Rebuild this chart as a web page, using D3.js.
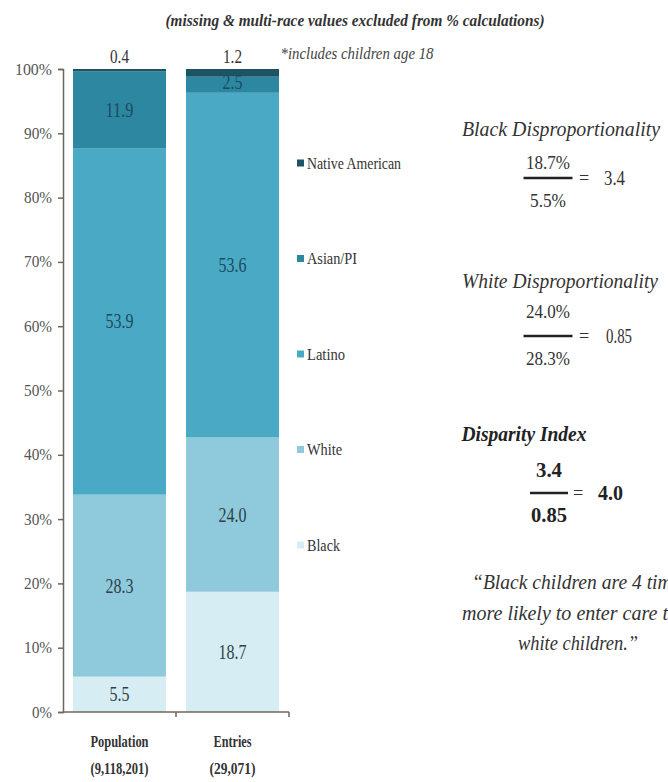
<!DOCTYPE html>
<html><head><meta charset="utf-8">
<script src="https://cdn.jsdelivr.net/npm/d3@7"></script>
<style>body{margin:0;background:#fff;overflow:hidden}svg{display:block}</style>
</head><body>
<svg id="c" width="668" height="782"></svg>
<script>
// ---- data ----
const categories = ["Population", "Entries"];
const categoryCounts = ["(9,118,201)", "(29,071)"];
const groups = ["Black", "White", "Latino", "Asian/PI", "Native American"];
const blackValues = [5.5, 18.7];
const whiteValues = [28.3, 24.0];
const latinoValues = [53.9, 53.6];
const asianValues = [11.9, 2.5];
const nativeValues = [0.4, 1.2];
const yTickValues = [0, 10, 20, 30, 40, 50, 60, 70, 80, 90, 100];

const colors = {"Black": "#d7edf4", "White": "#8ecadc", "Latino": "#4aa9c4", "Asian/PI": "#2d87a1", "Native American": "#1c5466"};
const serif = "'Liberation Serif','Times New Roman',serif";

const svg = d3.select("#c");

function txt(x, y, s, o = {}) {
  const t = svg.append("text")
    .attr("x", x).attr("y", y)
    .attr("text-anchor", o.anchor || "middle")
    .attr("dominant-baseline", "central")
    .attr("font-family", serif)
    .attr("font-size", o.size || 15)
    .attr("font-weight", o.weight || "normal")
    .attr("font-style", o.style || "normal")
    .attr("fill", o.fill || "#333")
    .text(s);
  if (o.w) t.attr("textLength", o.w).attr("lengthAdjust", "spacingAndGlyphs");
  return t;
}

// ---- scales ----
const x = d3.scaleBand().domain(categories).range([63, 289]).paddingInner(20 / 113).paddingOuter(10 / 113);
const y = d3.scaleLinear().domain([0, 100]).range([712, 69]);

const table = categories.map((c, i) => ({
  cat: c,
  "Black": blackValues[i], "White": whiteValues[i], "Latino": latinoValues[i],
  "Asian/PI": asianValues[i], "Native American": nativeValues[i]
}));
const stacked = d3.stack().keys(groups)(table);

// ---- bars ----
stacked.forEach(layer => {
  svg.append("g").selectAll("rect").data(layer).join("rect")
    .attr("x", d => x(d.data.cat))
    .attr("width", x.bandwidth())
    .attr("y", d => y(d[1]))
    .attr("height", d => y(d[0]) - y(d[1]))
    .attr("fill", colors[layer.key]);
});

// segment labels
stacked.forEach(layer => {
  layer.forEach(d => {
    const v = d[1] - d[0];
    const cx = x(d.data.cat) + x.bandwidth() / 2;
    if (layer.key === "Native American") {
      txt(cx, 56, v.toFixed(1), {size: 19, w: 19, fill: "#333"});
    } else {
      const dark = layer.key === "Latino" || layer.key === "Asian/PI";
      txt(cx, (y(d[0]) + y(d[1])) / 2 - (v < 5 && layer.key === "Asian/PI" ? 3 : 0), v.toFixed(1),
        {size: 20, w: v >= 10 ? 28 : 20, fill: dark ? "#1b4b5e" : "#2f3f47"});
    }
  });
});

// ---- axes ----
const axisColor = "#6e665c";
const yAxis = d3.axisLeft(y).tickValues(yTickValues).tickSize(5).tickFormat(d => d + "%");
const gy = svg.append("g").attr("transform", "translate(63,0)").call(yAxis);
gy.select(".domain").attr("stroke", axisColor).attr("stroke-width", 1.5);
gy.selectAll(".tick line").attr("stroke", axisColor).attr("stroke-width", 1.5);
gy.selectAll(".tick text").remove();
yTickValues.forEach(v => txt(52, y(v), v + "%", {anchor: "end", size: 17, w: v === 100 ? 37 : (v === 0 ? 20 : 28), fill: "#555"}));

svg.append("line").attr("x1", 63).attr("x2", 289).attr("y1", 712).attr("y2", 712)
  .attr("stroke", axisColor).attr("stroke-width", 1.5);
[x(categories[1]) - 10, 289].forEach(px =>
  svg.append("line").attr("x1", px).attr("x2", px).attr("y1", 712).attr("y2", 717)
    .attr("stroke", axisColor).attr("stroke-width", 1.5));

categories.forEach((c, i) => {
  const cx = x(c) + x.bandwidth() / 2;
  txt(cx, 741, c, {size: 16, weight: "bold", w: c === "Population" ? 58 : 38, fill: "#333"});
  txt(cx, 768, categoryCounts[i], {size: 16, weight: "bold", w: c === "Population" ? 58 : 46, fill: "#333"});
});

// ---- titles ----
txt(355, 20, "(missing & multi-race  values excluded from % calculations)", {size: 17, weight: "bold", style: "italic", w: 379, fill: "#333"});
txt(357, 53, "*includes children age 18", {size: 17, style: "italic", w: 153, fill: "#444"});

// ---- legend ----
const legendWidths = {"Native American": 94, "Asian/PI": 50, "Latino": 38, "White": 35, "Black": 33};
groups.slice().reverse().forEach((g, i) => {
  const ly = 163 + i * 95.5;
  svg.append("rect").attr("x", 297).attr("y", ly - 3.5).attr("width", 7).attr("height", 7).attr("fill", colors[g]);
  txt(307, ly, g, {anchor: "start", size: 16, w: legendWidths[g], fill: "#333"});
});

// ---- right-hand annotation ----
function fraction(f) {
  txt(f.cx, f.numY, f.top, {size: f.size, weight: f.weight, fill: f.fill, w: f.tw});
  txt(f.cx, f.denY, f.bot, {size: f.size, weight: f.weight, fill: f.fill, w: f.bw});
  svg.append("line").attr("x1", f.cx - f.lw / 2).attr("x2", f.cx + f.lw / 2).attr("y1", f.lineY).attr("y2", f.lineY)
    .attr("stroke", "#222").attr("stroke-width", 2.5);
  txt(f.eqX, f.lineY, "=", {size: 18, fill: "#333"});
  txt(f.resX, f.lineY, f.res, {anchor: "start", size: f.rsize || f.size, weight: f.weight, fill: f.fill, w: f.rw});
}
txt(561, 128, "Black Disproportionality", {size: 22, style: "italic", w: 198, fill: "#333"});
fraction({cx: 548, numY: 162, denY: 200, lineY: 178, lw: 49, top: "18.7%", bot: "5.5%", res: "3.4",
  eqX: 584, resX: 604, size: 19, rsize: 20, fill: "#333", tw: 44, bw: 36, rw: 21});

txt(560, 280, "White Disproportionality", {size: 22, style: "italic", w: 196, fill: "#333"});
fraction({cx: 548, numY: 311, denY: 358, lineY: 336, lw: 49, top: "24.0%", bot: "28.3%", res: "0.85",
  eqX: 584, resX: 606, size: 19, rsize: 20, fill: "#333", tw: 44, bw: 44, rw: 26});

txt(524, 433, "Disparity Index", {size: 22, style: "italic", weight: "bold", w: 125, fill: "#222"});
fraction({cx: 549, numY: 470, denY: 515, lineY: 493, lw: 38, top: "3.4", bot: "0.85", res: "4.0",
  eqX: 578, resX: 598, size: 20, weight: "bold", fill: "#222", tw: 26, bw: 36, rw: 25});

txt(580, 582, "\u201CBlack children are 4 times", {size: 21, style: "italic", w: 216, fill: "#333"});
txt(580, 613, "more likely to enter care than", {size: 21, style: "italic", w: 236, fill: "#333"});
txt(578, 643, "white children.\u201D", {size: 21, style: "italic", w: 120, fill: "#333"});
</script>
</body></html>
